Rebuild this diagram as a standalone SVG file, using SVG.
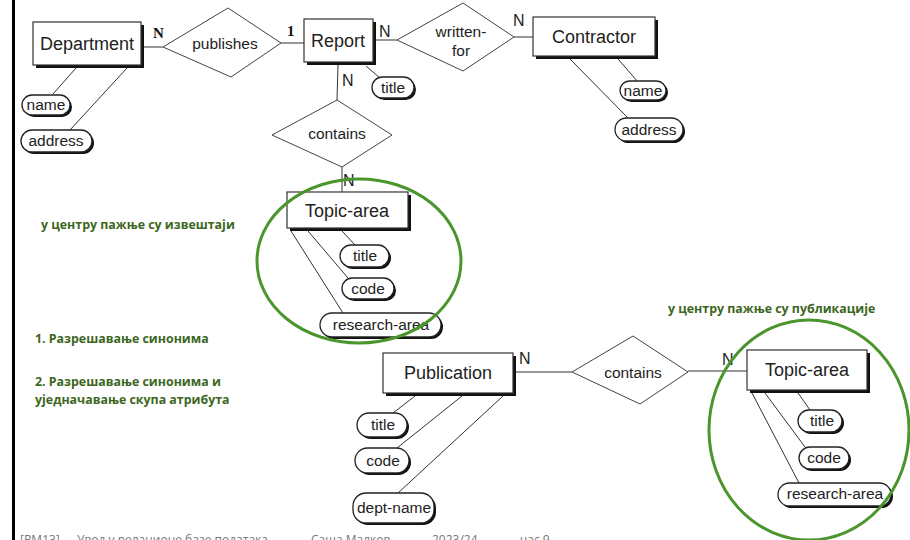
<svg xmlns="http://www.w3.org/2000/svg" width="910" height="540" viewBox="0 0 910 540">
  <style>
    .shadow { fill: #111; }
    .box { fill: #fff; stroke: #333; stroke-width: 1.2; }
    .pill { fill: #fff; stroke: #222; stroke-width: 1.3; }
    .rel { fill: #fff; stroke: #444; stroke-width: 1; }
    .edge { fill: none; stroke: #333; stroke-width: 1; }
    .ent { font-family: "Liberation Sans", Arial, sans-serif; font-size: 18px; fill: #222; text-anchor: middle; }
    .att { font-family: "Liberation Sans", Arial, sans-serif; font-size: 15.5px; fill: #222; text-anchor: middle; }
    .card { font-family: "Liberation Sans", Arial, sans-serif; font-size: 16px; fill: #222; }
    .cardb { font-family: "Liberation Serif", "Times New Roman", serif; font-size: 15px; font-weight: bold; fill: #111; }
    .note { font-family: "Open Sans", "Noto Sans", sans-serif; font-size: 12.4px; font-weight: bold; fill: #3d6622; }
    .focus { fill: none; stroke: #4a962c; stroke-width: 3; }
    .foot { font-family: "Open Sans", "Noto Sans", sans-serif; font-size: 12px; fill: #777; }
  </style>

  <rect width="910" height="540" fill="#fff"/>
  <line x1="13.5" y1="0" x2="13.5" y2="540" stroke="#000" stroke-width="3"/>

  <!-- connectors -->
  <g id="connectors" class="edge">
    <line x1="143" y1="47" x2="163" y2="47"/>
    <line x1="281" y1="43" x2="304" y2="43"/>
    <line x1="373" y1="40" x2="397" y2="40"/>
    <line x1="514" y1="37" x2="533" y2="37"/>
    <line x1="338" y1="65" x2="337" y2="100"/>
    <line x1="342" y1="167" x2="342" y2="192"/>
    <line x1="76" y1="68" x2="53" y2="94"/>
    <line x1="127" y1="68" x2="70" y2="130"/>
    <line x1="366" y1="66" x2="380" y2="78"/>
    <line x1="618" y1="59" x2="638" y2="82"/>
    <line x1="570" y1="59" x2="628" y2="118"/>
    <line x1="342" y1="231" x2="355" y2="245"/>
    <line x1="308" y1="231" x2="348" y2="278"/>
    <line x1="291" y1="231" x2="343" y2="313"/>
    <line x1="513" y1="372" x2="572" y2="372"/>
    <line x1="688" y1="371" x2="747" y2="371"/>
    <line x1="415" y1="396" x2="393" y2="413"/>
    <line x1="462" y1="396" x2="397" y2="448"/>
    <line x1="503" y1="396" x2="398" y2="493"/>
    <line x1="798" y1="393" x2="810" y2="410"/>
    <line x1="765" y1="393" x2="805" y2="447"/>
    <line x1="752" y1="393" x2="799" y2="483"/>
  </g>

  <!-- cardinalities -->
  <g id="cardinalities">
    <text class="cardb" x="153" y="38">N</text>
    <text class="cardb" x="287" y="36">1</text>
    <text class="card" x="379" y="37">N</text>
    <text class="card" x="513" y="26">N</text>
    <text class="card" x="342" y="86">N</text>
    <text class="card" x="343" y="186">N</text>
    <text class="card" x="519" y="364">N</text>
    <text class="card" x="722" y="365">N</text>
  </g>

  <!-- entities -->
  <g id="department">
    <rect class="shadow" x="36" y="25" width="108" height="43"/>
    <rect class="box" x="33" y="22" width="108" height="43"/>
    <text class="ent" x="87" y="50">Department</text>
  </g>
  <g id="report">
    <rect class="shadow" x="307" y="22" width="69" height="43"/>
    <rect class="box" x="304" y="19" width="69" height="43"/>
    <text class="ent" x="338" y="47">Report</text>
  </g>
  <g id="contractor">
    <rect class="shadow" x="536" y="20" width="122" height="39"/>
    <rect class="box" x="533" y="17" width="122" height="39"/>
    <text class="ent" x="594" y="43">Contractor</text>
  </g>
  <g id="topic-area-1">
    <rect class="shadow" x="290" y="195" width="121" height="36"/>
    <rect class="box" x="287" y="192" width="121" height="36"/>
    <text class="ent" x="347" y="217">Topic-area</text>
  </g>
  <g id="publication">
    <rect class="shadow" x="386" y="356" width="130" height="40"/>
    <rect class="box" x="383" y="353" width="130" height="40"/>
    <text class="ent" x="448" y="379">Publication</text>
  </g>
  <g id="topic-area-2">
    <rect class="shadow" x="750" y="353" width="120" height="40"/>
    <rect class="box" x="747" y="350" width="120" height="40"/>
    <text class="ent" x="807" y="376">Topic-area</text>
  </g>

  <!-- relationships -->
  <g id="publishes">
    <polygon class="rel" points="163,47 228,8 281,43 231,77"/>
    <text class="att" x="225" y="49">publishes</text>
  </g>
  <g id="written-for">
    <polygon class="rel" points="397,40 463,3 514,37 463,71"/>
    <text class="att" x="461" y="37">written-</text>
    <text class="att" x="461" y="56">for</text>
  </g>
  <g id="contains-1">
    <polygon class="rel" points="272,135 337,100 392,135 342,167"/>
    <text class="att" x="337" y="139">contains</text>
  </g>
  <g id="contains-2">
    <polygon class="rel" points="572,372 633,336 688,372 640,404"/>
    <text class="att" x="633" y="378">contains</text>
  </g>

  <!-- attributes -->
  <g id="department-name">
    <rect class="shadow" x="24" y="97" width="48" height="20" rx="10"/>
    <rect class="pill" x="22" y="95" width="48" height="20" rx="10"/>
    <text class="att" x="46" y="110">name</text>
  </g>
  <g id="department-address">
    <rect class="shadow" x="23" y="132" width="71" height="22" rx="11"/>
    <rect class="pill" x="21" y="130" width="71" height="22" rx="11"/>
    <text class="att" x="56" y="146">address</text>
  </g>
  <g id="report-title">
    <rect class="shadow" x="374" y="79" width="42" height="21" rx="10.5"/>
    <rect class="pill" x="372" y="77" width="42" height="21" rx="10.5"/>
    <text class="att" x="393" y="93">title</text>
  </g>
  <g id="contractor-name">
    <rect class="shadow" x="622" y="83" width="46" height="19" rx="9.5"/>
    <rect class="pill" x="620" y="81" width="46" height="19" rx="9.5"/>
    <text class="att" x="643" y="96">name</text>
  </g>
  <g id="contractor-address">
    <rect class="shadow" x="617" y="120" width="68" height="23" rx="11.5"/>
    <rect class="pill" x="615" y="118" width="68" height="23" rx="11.5"/>
    <text class="att" x="649" y="135">address</text>
  </g>
  <g id="topic1-title">
    <rect class="shadow" x="342" y="247" width="49" height="22" rx="11"/>
    <rect class="pill" x="340" y="245" width="49" height="22" rx="11"/>
    <text class="att" x="365" y="261">title</text>
  </g>
  <g id="topic1-code">
    <rect class="shadow" x="344" y="280" width="52" height="21" rx="10.5"/>
    <rect class="pill" x="342" y="278" width="52" height="21" rx="10.5"/>
    <text class="att" x="368" y="294">code</text>
  </g>
  <g id="topic1-research-area">
    <rect class="shadow" x="322" y="315" width="121" height="24" rx="12"/>
    <rect class="pill" x="320" y="313" width="121" height="24" rx="12"/>
    <text class="att" x="381" y="330">research-area</text>
  </g>
  <g id="publication-title">
    <rect class="shadow" x="359" y="415" width="50" height="24" rx="12"/>
    <rect class="pill" x="357" y="413" width="50" height="24" rx="12"/>
    <text class="att" x="383" y="430">title</text>
  </g>
  <g id="publication-code">
    <rect class="shadow" x="357" y="450" width="54" height="25" rx="12.5"/>
    <rect class="pill" x="355" y="448" width="54" height="25" rx="12.5"/>
    <text class="att" x="383" y="466">code</text>
  </g>
  <g id="publication-dept-name">
    <rect class="shadow" x="355" y="495" width="81" height="30" rx="13"/>
    <rect class="pill" x="353" y="493" width="81" height="30" rx="13"/>
    <text class="att" x="394" y="513">dept-name</text>
  </g>
  <g id="topic2-title">
    <rect class="shadow" x="800" y="412" width="44" height="22" rx="11"/>
    <rect class="pill" x="798" y="410" width="44" height="22" rx="11"/>
    <text class="att" x="822" y="426">title</text>
  </g>
  <g id="topic2-code">
    <rect class="shadow" x="801" y="449" width="50" height="22" rx="11"/>
    <rect class="pill" x="799" y="447" width="50" height="22" rx="11"/>
    <text class="att" x="824" y="463">code</text>
  </g>
  <g id="topic2-research-area">
    <rect class="shadow" x="780" y="485" width="113" height="23" rx="11.5"/>
    <rect class="pill" x="778" y="483" width="113" height="23" rx="11.5"/>
    <text class="att" x="835" y="499">research-area</text>
  </g>

  <!-- highlight rings -->
  <ellipse class="focus" cx="359" cy="261" rx="102" ry="82"/>
  <ellipse class="focus" cx="809" cy="430" rx="100" ry="110"/>

  <!-- notes -->
  <text class="note" x="41" y="229">у центру пажње су извештаји</text>
  <text class="note" x="668" y="313">у центру пажње су публикације</text>
  <text class="note" x="35" y="343">1. Разрешавање синонима</text>
  <text class="note" x="35" y="386">2. Разрешавање синонима и</text>
  <text class="note" x="35" y="404">уједначавање скупа атрибута</text>

  <!-- footer -->
  <g class="foot">
    <text x="20" y="544">[RM13]</text>
    <text x="77" y="544">Увод у релационе базе података</text>
    <text x="290" y="544">-</text>
    <text x="311" y="544">Саша Малков</text>
    <text x="410" y="544">-</text>
    <text x="432" y="544">2023/24</text>
    <text x="500" y="544">-</text>
    <text x="520" y="544">час 9</text>
  </g>
</svg>
